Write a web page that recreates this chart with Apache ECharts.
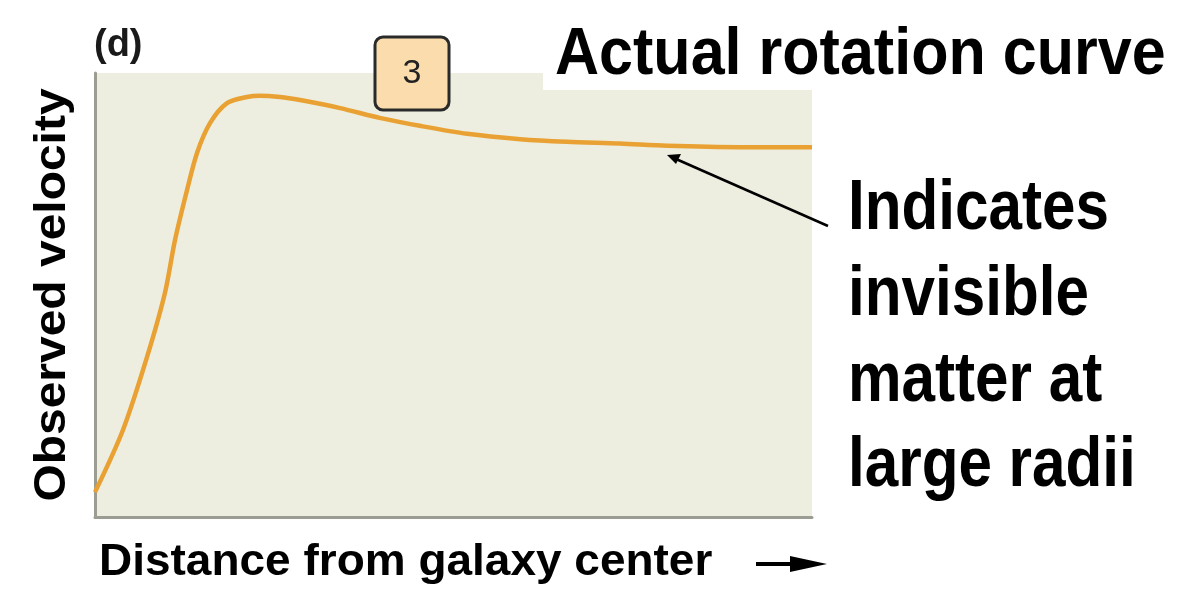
<!DOCTYPE html>
<html>
<head>
<meta charset="utf-8">
<script src="https://cdn.jsdelivr.net/npm/echarts@6/dist/echarts.min.js"></script>
<style>html,body{margin:0;padding:0;background:#fff;}#c{width:1201px;height:589px;}</style>
</head>
<body>
<div id="c"></div>
<script>
const distance = [0, 3.9, 7.25, 9.76, 11.16, 12.83, 14.23, 16.04, 18.41, 21.2, 23.0, 25.8, 28.6, 34.2, 39.7, 45.3, 51.9, 59.3, 65.8, 73.2, 79.8, 90.0, 100];
const velocity = [5.6, 19.6, 36.0, 50.5, 62.4, 73.6, 82.0, 88.7, 93.2, 94.6, 94.9, 94.6, 93.9, 92.1, 89.9, 88.1, 86.3, 85.1, 84.5, 84.1, 83.6, 83.3, 83.3];
const panelLabel = '(d)';
const stepLabel = '3';
const titleText = 'Actual rotation curve';
const xName = 'Distance from galaxy center';
const yName = 'Observed velocity';
const noteLines = ['Indicates', 'invisible', 'matter at', 'large radii'];

const FONT = '"Liberation Sans", Arial, Helvetica, sans-serif';
const chart = echarts.init(document.getElementById('c'), null, {renderer: 'canvas'});

const noteCenters = [210, 296, 382, 467];
const graphics = [
  {type: 'rect', z: 5, shape: {x: 543, y: 0, width: 300, height: 90}, style: {fill: '#fff'}},
  {type: 'text', z: 6, x: 555, y: 56, scaleX: 0.925, style: {text: titleText, font: 'bold 66px ' + FONT, fill: '#000', verticalAlign: 'middle'}},
  {type: 'text', z: 6, x: 94, y: 46, style: {text: panelLabel, font: 'bold 38px ' + FONT, fill: '#1a1a1a', verticalAlign: 'middle'}},
  {type: 'rect', z: 6, shape: {x: 375, y: 37, width: 74, height: 73, r: 8}, style: {fill: '#fbdcac', stroke: '#2a2a2a', lineWidth: 3}},
  {type: 'text', z: 7, x: 412, y: 74, style: {text: stepLabel, font: '34px ' + FONT, fill: '#222', align: 'center', verticalAlign: 'middle'}},
  {type: 'text', z: 6, x: 53, y: 295, rotation: Math.PI / 2, scaleX: 1.09, style: {text: yName, font: 'bold 44px ' + FONT, fill: '#000', align: 'center', verticalAlign: 'middle'}},
  {type: 'text', z: 6, x: 99, y: 563, scaleX: 1.045, style: {text: xName, font: 'bold 44px ' + FONT, fill: '#000', verticalAlign: 'middle'}},
  {type: 'line', z: 6, shape: {x1: 756, y1: 564, x2: 800, y2: 564}, style: {stroke: '#000', lineWidth: 4}},
  {type: 'polygon', z: 6, shape: {points: [[790, 556], [827, 564], [790, 572]]}, style: {fill: '#000'}},
  {type: 'line', z: 6, shape: {x1: 828, y1: 226, x2: 676, y2: 159}, style: {stroke: '#000', lineWidth: 2.5}},
  {type: 'polygon', z: 6, shape: {points: [[667, 155], [681, 154], [676, 164]]}, style: {fill: '#000'}}
];
noteLines.forEach(function (t, i) {
  graphics.push({type: 'text', z: 6, x: 848, y: noteCenters[i], scaleX: 0.86, style: {text: t, font: 'bold 70px ' + FONT, fill: '#000', verticalAlign: 'middle'}});
});

chart.setOption({
  animation: false,
  backgroundColor: '#fff',
  grid: {left: 95, top: 73, right: 389, bottom: 72, show: true, backgroundColor: '#edeedf', borderWidth: 0},
  xAxis: {type: 'value', min: 0, max: 100, axisLine: {show: true, lineStyle: {color: '#9c9d92', width: 3}}, axisTick: {show: false}, axisLabel: {show: false}, splitLine: {show: false}},
  yAxis: {type: 'value', min: 0, max: 100, axisLine: {show: true, lineStyle: {color: '#9c9d92', width: 3}}, axisTick: {show: false}, axisLabel: {show: false}, splitLine: {show: false}},
  series: [{
    type: 'line', z: 10,
    data: distance.map(function (d, i) { return [d, velocity[i]]; }),
    smooth: 0.3, showSymbol: false, symbol: 'none',
    lineStyle: {color: '#e9a133', width: 4.5}
  }],
  graphic: graphics
});
</script>
</body>
</html>
